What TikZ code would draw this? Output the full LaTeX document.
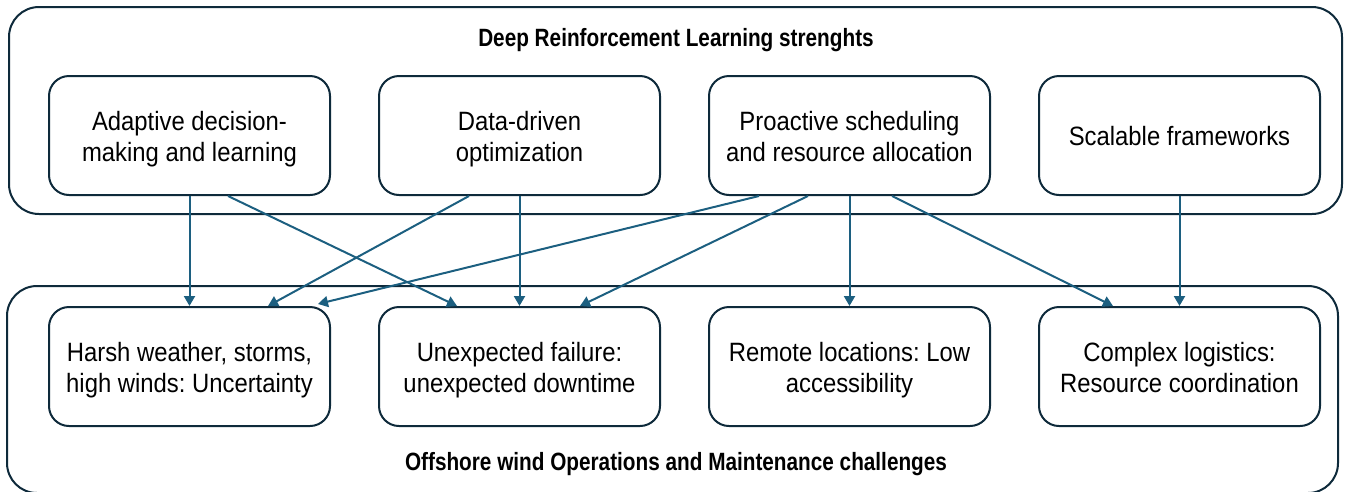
\documentclass[tikz,border=0pt]{standalone}
\usepackage{fontspec}
\setmainfont[FakeStretch=0.90,BoldFeatures={FakeStretch=0.83}]{Liberation Sans}
\usetikzlibrary{arrows.meta}
\definecolor{frame}{HTML}{0E2A3B}
\definecolor{arr}{HTML}{1C5F80}
\newcommand\cardtext[2][-4pt]{\raisebox{#1}[\height][\depth]{\begin{tabular}{@{}c@{}}#2\end{tabular}}}
\begin{document}
\frenchspacing
\begin{tikzpicture}[x=1pt,y=-1pt,
 outer/.style={draw=frame, line width=2pt, rounded corners=30pt, inner sep=0pt},
 card/.style={draw=frame, fill=white, line width=2pt, rounded corners=20pt, minimum width=281pt, minimum height=119pt, align=center, font=\fontsize{26.5}{31}\selectfont, inner sep=0pt},
 titletext/.style={font=\bfseries\fontsize{25}{30}\selectfont, inner sep=0pt},
 link/.style={draw=arr, line width=2pt, -{Triangle[length=10pt,width=11pt]}}]
\useasboundingbox (0,0) rectangle (1346,491);
\node[outer, minimum width=1333pt, minimum height=207pt] (topframe) at (675.5,110.5) {};
\node[outer, minimum width=1331pt, minimum height=207pt] (botframe) at (672.5,389.5) {};
\node[titletext] (toptitle) at (676,40) {Deep Reinforcement Learning strenghts};
\node[titletext] (bottitle) at (676,464) {Offshore wind Operations and Maintenance challenges};
\node[card] (t1) at (189.5,135.5) {\cardtext{Adaptive decision-\\making and learning}};
\node[card] (t2) at (519.5,135.5) {\cardtext{Data-driven\\optimization}};
\node[card] (t3) at (849.5,135.5) {\cardtext{Proactive scheduling\\and resource allocation}};
\node[card] (t4) at (1179.5,135.5) {\cardtext{Scalable frameworks}};
\node[card] (b1) at (189.5,366.5) {\cardtext{Harsh weather, storms,\\high winds: Uncertainty}};
\node[card] (b2) at (519.5,366.5) {\cardtext{Unexpected failure:\\unexpected downtime}};
\node[card] (b3) at (849.5,366.5) {\cardtext{Remote locations: Low\\accessibility}};
\node[card] (b4) at (1179.5,366.5) {\cardtext{Complex logistics:\\Resource coordination}};
\draw[link] (t1.south) -- (b1.north);
\draw[link] ([xshift=38.5pt]t1.south) -- ([xshift=-62.5pt]b2.north);
\draw[link] ([xshift=-50.5pt]t2.south) -- ([xshift=78.5pt]b1.north);
\draw[link] (t2.south) -- (b2.north);
\draw[link] ([xshift=-90.5pt]t3.south) -- ([xshift=128.5pt,yshift=2pt]b1.north);
\draw[link] ([xshift=-41.5pt]t3.south) -- ([xshift=60.5pt]b2.north);
\draw[link] (t3.south) -- (b3.north);
\draw[link] ([xshift=42.5pt]t3.south) -- ([xshift=-66.5pt]b4.north);
\draw[link] (t4.south) -- (b4.north);
\end{tikzpicture}
\end{document}
